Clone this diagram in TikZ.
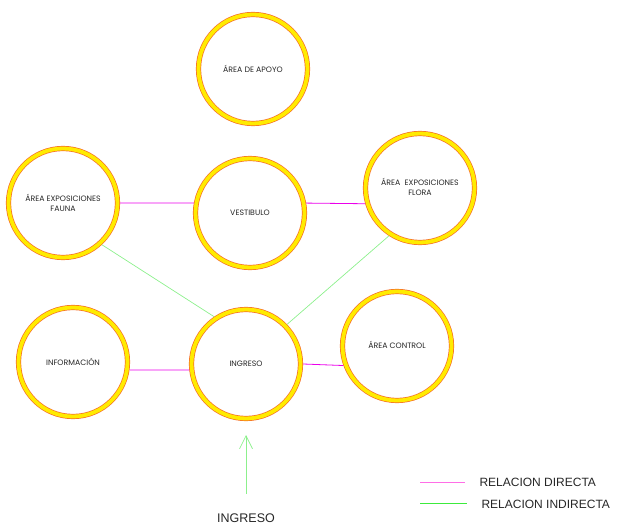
\documentclass[tikz,border=0pt]{standalone}
\usepackage{fontspec}
\setmainfont{Liberation Sans}
\newfontfamily\circfont{Poppins}
\usetikzlibrary{arrows.meta}
\definecolor{ringedge}{RGB}{245,110,40}
\definecolor{ringfill}{RGB}{255,235,0}
\definecolor{dirline}{RGB}{235,0,235}
\definecolor{dirleg}{RGB}{255,110,230}
\definecolor{indline}{RGB}{140,240,140}
\definecolor{indleg}{RGB}{60,235,60}
\tikzset{
  space/.style={circle, draw=ringedge, line width=0.7pt, double=ringfill, double distance=3.8pt,
    minimum size=109pt, inner sep=0pt, outer sep=2.6pt, align=center, font=\circfont\fontsize{7.8}{10}\selectfont, text=black!85},
  directo/.style={draw=dirline, line width=0.8pt},
  indirecto/.style={draw=indline, line width=0.7pt},
  legtext/.style={anchor=west, font=\fontsize{12}{14}\selectfont, text=black!85}
}
\begin{document}
\begin{tikzpicture}[x=1pt,y=-1pt]
\useasboundingbox (0,0) rectangle (629,529);
\node[space] (apoyo) at (253,69) {ÁREA DE APOYO};
\node[space] (fauna) at (63,203) {ÁREA EXPOSICIONES\\FAUNA};
\node[space] (vest) at (250,213) {VESTIBULO};
\node[space] (flora) at (420,188) {\raisebox{-3pt}{\begin{tabular}{@{}c@{}}ÁREA\ \ EXPOSICIONES\\FLORA\end{tabular}}};
\node[space] (info) at (73,362) {INFORMACIÓN};
\node[space] (ingreso) at (246,364) {INGRESO};
\node[space] (control) at (397,346) {\raisebox{3pt}{ÁREA CONTROL}};

\draw[directo] (fauna.0) -- (vest.170);
\draw[directo] (vest.10) -- (flora.196);
\draw[directo] (info.-8) -- (ingreso.186);
\draw[directo] (ingreso.0) -- (control.200);

\draw[indirecto] (fauna.-47) -- (ingreso.124);
\draw[indirecto] (flora.237) -- (ingreso.44);

\coordinate (arrS) at (246,494);
\coordinate (arrE) at (246,435);
\draw[indirecto, -{Straight Barb[length=13pt,width=13pt]}] (arrS) -- (arrE);
\node[font=\fontsize{12.5}{14}\selectfont, text=black!85] (ingtxt) at (246,518) {INGRESO};

\coordinate (l1a) at (420,482);
\coordinate (l1b) at (465,482);
\coordinate (l2a) at (420,503);
\coordinate (l2b) at (467,503);
\draw[draw=dirleg, line width=0.8pt] (l1a) -- (l1b);
\draw[draw=indleg, line width=0.8pt] (l2a) -- (l2b);
\node[legtext] (leg1) at (476,482) {RELACION DIRECTA};
\node[legtext] (leg2) at (478,504) {RELACION INDIRECTA};
\end{tikzpicture}
\end{document}
